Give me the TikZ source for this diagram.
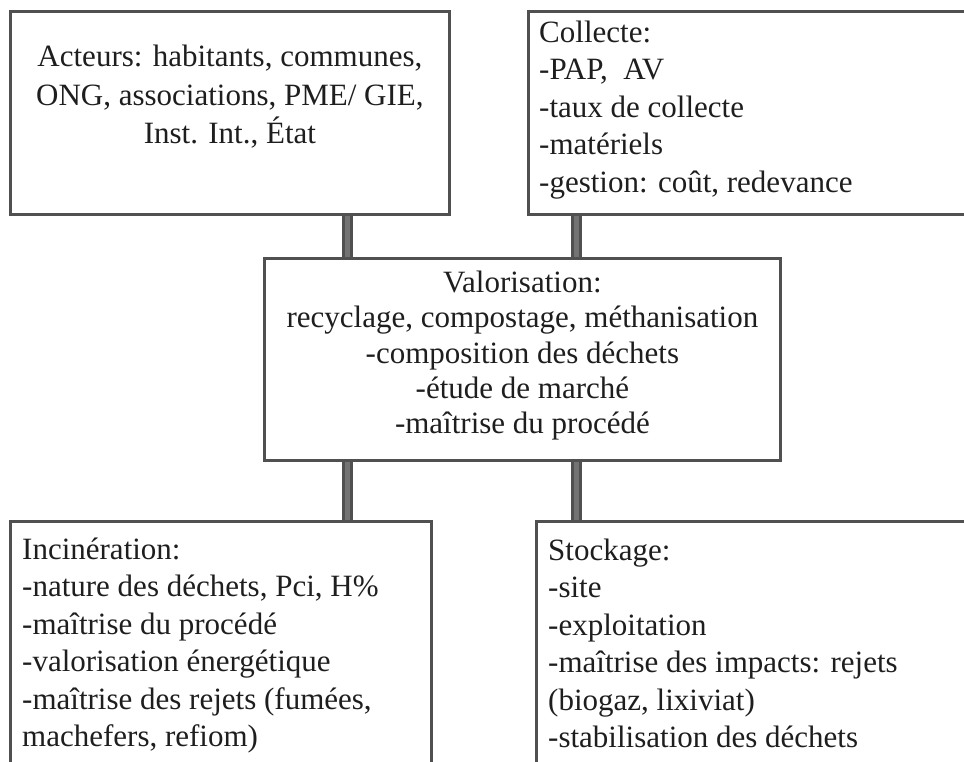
\documentclass[tikz,border=0pt]{standalone}
\usepackage{fontspec}
\setmainfont{Liberation Serif}
\usepackage{xcolor}
\usepackage{tikz}
\usetikzlibrary{positioning,calc}
\definecolor{boxline}{RGB}{80,80,80}
\definecolor{barfill}{RGB}{115,115,115}
\definecolor{inktext}{RGB}{30,30,30}
\tikzset{
  frame/.style={draw=boxline, line width=2.8pt, inner sep=0pt, anchor=north west},
  bar/.style={draw=boxline, line width=2.4pt, double=barfill, double distance=5.5pt},
  txt/.style={inner sep=0pt, text=inktext, font=\fontsize{31}{37.5}\selectfont},
  txtl/.style={txt, align=left},
  txtc/.style={txt, align=center}
}
\begin{document}
\begin{tikzpicture}[x=1pt, y=-1pt]
\useasboundingbox (0,0) rectangle (964,761);
\clip (0,0) rectangle (964,761);
\node[frame, minimum width=439pt, minimum height=203pt] (act) at (9,10) {};
\node[frame, minimum width=460pt, minimum height=203pt] (col) at (527,10) {};
\node[frame, minimum width=516pt, minimum height=202pt] (val) at (263,257) {};
\node[frame, minimum width=421pt, minimum height=260pt] (inc) at (9,520) {};
\node[frame, minimum width=460pt, minimum height=260pt] (sto) at (535,520) {};
\node[txtc, below=29.75pt of act.north, font=\fontsize{31}{38.5}\selectfont] (acttxt) {\strut Acteurs: habitants, communes,\\ONG, associations, PME/ GIE,\\Inst. Int., État};
\node[txtl, below right=5.75pt and 12pt of col.north west] (coltxt) {\strut Collecte:\\-PAP,~ AV\\-taux de collecte\\-matériels\\-gestion: coût, redevance};
\node[txtc, below=10.75pt of val.north, font=\fontsize{31}{35.25}\selectfont] (valtxt) {\strut Valorisation:\\recyclage, compostage, méthanisation\\-composition des déchets\\-étude de marché\\-maîtrise du procédé};
\node[txtl, below right=12.75pt and 13pt of inc.north west] (inctxt) {\strut Incinération:\\-nature des déchets, Pci, H\%\\-maîtrise du procédé\\-valorisation énergétique\\-maîtrise des rejets (fumées,\\machefers, refiom)};
\node[txtl, below right=13.75pt and 13pt of sto.north west] (stotxt) {\strut Stockage:\\-site\\-exploitation\\-maîtrise des impacts: rejets\\(biogaz, lixiviat)\\-stabilisation des déchets};
\coordinate (jl) at (347.5,0);
\coordinate (jr) at (576.5,0);
\draw[bar] (act.south -| jl) -- (val.north -| jl);
\draw[bar] (col.south -| jr) -- (val.north -| jr);
\draw[bar] (val.south -| jl) -- (inc.north -| jl);
\draw[bar] (val.south -| jr) -- (sto.north -| jr);
\end{tikzpicture}
\end{document}
